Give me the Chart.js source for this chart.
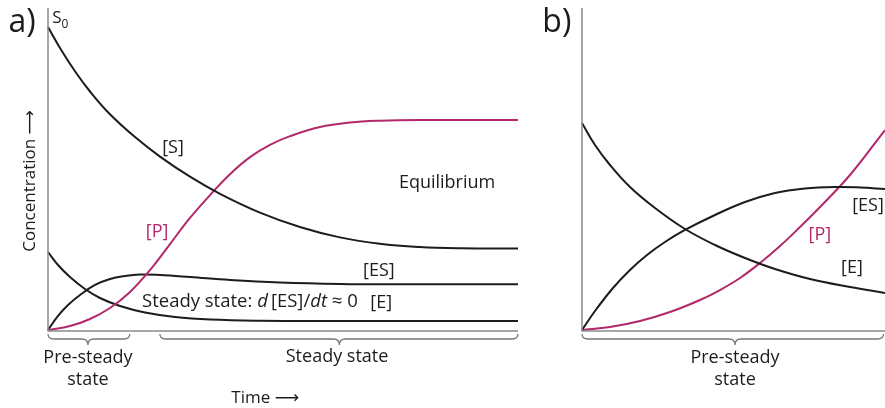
<!DOCTYPE html>
<html>
<head>
<meta charset="utf-8">
<script src="https://cdn.jsdelivr.net/npm/chart.js@4.4.1/dist/chart.umd.min.js"></script>
<style>
  html, body { margin: 0; padding: 0; background: #fff; }
  #wrap { position: relative; width: 885px; height: 408px; overflow: hidden; }
  canvas { position: absolute; top: 0; }
  #chartA { left: 0; }
  #chartB { left: 540px; }
</style>
</head>
<body>
<div id="wrap">
  <canvas id="chartA" width="540" height="408"></canvas>
  <canvas id="chartB" width="345" height="408"></canvas>
</div>
<script>
// ======================================
// DATA (time and concentration in arbitrary units, 0-100)
// ======================================
// panel a) - whole reaction
const aS_t  = [0, 2.55, 5.74, 8.94, 13.19, 18.51, 23.83, 30.21, 36.6, 45.1, 53.6, 62.1, 70.6, 79.1, 87.7, 100];
const aS_c  = [94.1, 87.58, 80.36, 74.07, 66.99, 59.91, 53.85, 47.61, 42.3, 36.46, 31.99, 28.76, 26.77, 25.78, 25.4, 25.31];
const aP_t  = [0, 4.68, 8.94, 13.19, 17.45, 21.7, 25.96, 30.21, 34.47, 38.72, 42.98, 47.23, 51.49, 57.87, 64.26, 70.64, 79.15, 100];
const aP_c  = [0, 1.24, 3.42, 6.83, 11.8, 18.6, 26.7, 34.8, 41.9, 48.4, 53.7, 57.5, 60.2, 63.04, 64.44, 65.0, 65.22, 65.22];
const aES_t = [0, 2.13, 4.26, 6.81, 10.0, 13.19, 16.38, 19.57, 23.83, 30.21, 38.72, 49.36, 62.13, 74.9, 100];
const aES_c = [0, 4.35, 7.76, 10.87, 13.98, 15.84, 16.77, 17.24, 17.08, 16.46, 15.53, 14.75, 14.29, 14.19, 14.19];
const aE_t  = [0, 2.13, 4.68, 7.87, 11.06, 15.32, 20.64, 27.02, 34.47, 45.1, 60.0, 100];
const aE_c  = [24.22, 20.19, 16.46, 12.73, 9.94, 7.45, 5.43, 4.04, 3.26, 2.89, 2.8, 2.8];

// panel b) - pre-steady state close-up
const bE_t  = [0, 4.29, 9.24, 15.84, 24.09, 33.99, 43.89, 53.8, 63.7, 75.25, 88.45, 100];
const bE_c  = [64.29, 57.45, 51.24, 44.41, 37.89, 31.37, 26.4, 22.36, 18.94, 15.84, 13.35, 11.49];
const bES_t = [0, 4.29, 10.23, 15.84, 21.45, 27.39, 33.99, 43.89, 53.8, 63.7, 73.6, 83.5, 91.75, 100];
const bES_c = [0, 5.9, 13.04, 18.63, 23.29, 27.33, 31.06, 35.71, 39.75, 42.55, 43.94, 44.41, 44.25, 43.79];
const bP_t  = [0, 9.24, 19.14, 29.04, 38.94, 45.54, 52.15, 58.75, 65.35, 71.95, 78.55, 88.45, 100];
const bP_c  = [0, 0.93, 2.8, 5.59, 9.32, 12.42, 16.15, 20.81, 26.09, 31.99, 38.2, 48.14, 62.11];

// ======================================
// STYLE
// ======================================
const FONT = '"Open Sans", "DejaVu Sans", sans-serif';
const colBlack = '#1c1c1c';
const colMagenta = '#b3286b';
const colAxis = '#8a8a8a';

function pts(ts, cs) { return ts.map((t, i) => ({ x: t, y: cs[i] })); }
function curve(ts, cs, color) {
    return { data: pts(ts, cs), borderColor: color, borderWidth: 2, pointRadius: 0,
             showLine: true, fill: false, tension: 0.4, clip: false };
}

function drawBrace(ctx, x1, x2, y0, tipX) {
    const y1 = y0 + 5, y2 = y0 + 11, r = 6;
    const mid = tipX;
    ctx.beginPath();
    ctx.moveTo(x1, y0);
    ctx.quadraticCurveTo(x1, y1, x1 + r, y1);
    ctx.lineTo(mid - r, y1);
    ctx.quadraticCurveTo(mid, y1, mid, y2);
    ctx.quadraticCurveTo(mid, y1, mid + r, y1);
    ctx.lineTo(x2 - r, y1);
    ctx.quadraticCurveTo(x2, y1, x2, y0);
    ctx.stroke();
}

// decorations: axes, braces, labels (positions in data units)
function makeDecor(opts) {
    return {
        id: 'decor',
        afterDatasetsDraw(chart) {
            const ctx = chart.ctx, xs = chart.scales.x, ys = chart.scales.y;
            const X = v => xs.getPixelForValue(v), Y = v => ys.getPixelForValue(v);
            ctx.save();
            // axes
            ctx.strokeStyle = colAxis; ctx.lineWidth = 1.5;
            ctx.beginPath();
            ctx.moveTo(X(0), Y(100)); ctx.lineTo(X(0), Y(0) + 1);
            ctx.lineTo(X(100), Y(0) + 1);
            ctx.stroke();
            // braces
            ctx.lineWidth = 1.3; ctx.strokeStyle = '#777';
            opts.braces.forEach(b => drawBrace(ctx, X(b[0]), X(b[1]), Y(0) + 4, X(b[2])));
            // labels
            ctx.textBaseline = 'middle';
            opts.labels.forEach(l => {
                ctx.font = (l.style || '') + ' ' + (l.size || 18) + 'px ' + FONT;
                ctx.fillStyle = l.color || colBlack;
                ctx.textAlign = l.align || 'center';
                if (l.rot) {
                    ctx.save(); ctx.translate(X(l.t), Y(l.c)); ctx.rotate(-Math.PI / 2);
                    ctx.fillText(l.text, 0, 0); ctx.restore();
                } else {
                    ctx.fillText(l.text, X(l.t), Y(l.c));
                }
            });
            if (opts.after) opts.after(ctx, X, Y);
            ctx.restore();
        }
    };
}

function baseOptions(padding) {
    return {
        responsive: false, animation: false, devicePixelRatio: 1,
        layout: { padding: padding },
        scales: {
            x: { type: 'linear', min: 0, max: 100, display: false },
            y: { type: 'linear', min: 0, max: 100, display: false }
        },
        plugins: { legend: { display: false }, tooltip: { enabled: false } }
    };
}

// ======================================
// CHART a)
// ======================================
const labelsA = [
    { text: 'a)', t: -5.5, c: 95.5, size: 32 },
    { text: 'Concentration ⟶', t: -3.9, c: 46.3, size: 17, rot: true },
    { text: '[S]', t: 26.6, c: 56.5 },
    { text: '[P]', t: 23.2, c: 30.4, color: colMagenta },
    { text: 'Equilibrium', t: 84.9, c: 45.7 },
    { text: '[ES]', t: 70.4, c: 18.3 },
    { text: '[E]', t: 70.9, c: 8.4 },
    { text: 'Pre-steady', t: 8.5, c: -8.6 },
    { text: 'state', t: 8.5, c: -15.5 },
    { text: 'Steady state', t: 61.5, c: -8.4 },
    { text: 'Time ⟶', t: 46.2, c: -21.2, size: 17 }
];
const decorA = makeDecor({
    braces: [[0, 17.4, 8.5], [23.8, 100, 62]],
    labels: labelsA,
    after(ctx, X, Y) {
        // S0 with subscript
        ctx.textAlign = 'left'; ctx.fillStyle = colBlack;
        ctx.font = '17px ' + FONT;
        ctx.fillText('S', X(0.9), Y(97));
        const w = ctx.measureText('S').width;
        ctx.font = '12px ' + FONT;
        ctx.fillText('0', X(0.9) + w, Y(95));
        // steady state with italic d and dt
        let x = X(20.0); const y = Y(8.7);
        const parts = [['Steady state: ', ''], ['d', 'italic '], ['\u2009[ES]/', ''], ['dt', 'italic '], [' ≈ 0', '']];
        parts.forEach(p => {
            ctx.font = p[1] + '18.5px ' + FONT;
            ctx.fillText(p[0], x, y);
            x += ctx.measureText(p[0]).width;
        });
    }
});

new Chart(document.getElementById('chartA'), {
    type: 'scatter',
    data: { datasets: [
        curve(aS_t, aS_c, colBlack),
        curve(aP_t, aP_c, colMagenta),
        curve(aES_t, aES_c, colBlack),
        curve(aE_t, aE_c, colBlack)
    ] },
    options: baseOptions({ left: 48, right: 22, top: 8, bottom: 78 }),
    plugins: [decorA]
});

// ======================================
// CHART b)
// ======================================
const labelsB = [
    { text: 'b)', t: -8.3, c: 95.5, size: 32 },
    { text: '[ES]', t: 94.4, c: 38.5 },
    { text: '[P]', t: 78.5, c: 29.5, color: colMagenta },
    { text: '[E]', t: 89.1, c: 19.3 },
    { text: 'Pre-steady', t: 50.5, c: -8.6 },
    { text: 'state', t: 50.5, c: -15.5 }
];
const decorB = makeDecor({ braces: [[0, 99.5, 50.5]], labels: labelsB });

new Chart(document.getElementById('chartB'), {
    type: 'scatter',
    data: { datasets: [
        curve(bE_t, bE_c, colBlack),
        curve(bES_t, bES_c, colBlack),
        curve(bP_t, bP_c, colMagenta)
    ] },
    options: baseOptions({ left: 42, right: 0, top: 8, bottom: 78 }),
    plugins: [decorB]
});
</script>
</body>
</html>
